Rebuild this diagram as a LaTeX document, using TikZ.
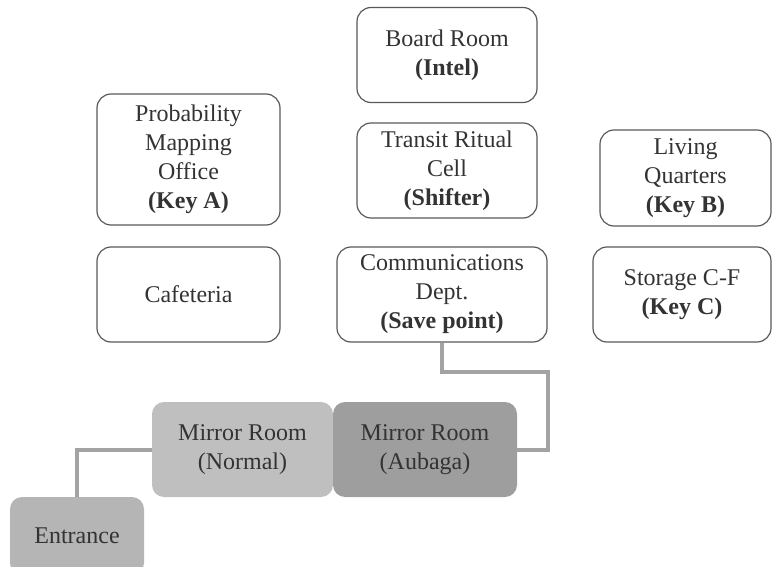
\documentclass[tikz,border=0pt]{standalone}
\usepackage{fontspec}
\setmainfont{Liberation Serif}
\begin{document}
\begin{tikzpicture}[x=0.5pt,y=-0.5pt]

      \useasboundingbox (0,0) rectangle (772,567);

      \begin{scope}[every node/.style={draw=black!65, line width=0.6pt, rounded corners=7pt, align=center, text=black!80, font=\fontsize{12}{14.5}\selectfont, minimum height=47.5pt, inner sep=0pt}]
        \node[minimum width=90pt]   (1) at (447,55)    {Board Room\\\textbf{(Intel)}};
        \node[minimum width=90pt]   (2) at (447,170.5) {Transit Ritual\\Cell\\\textbf{(Shifter)}};
        \node[minimum width=91.5pt, minimum height=65.5pt] (3) at (188.5,159.5) {Probability\\Mapping\\Office\\\textbf{(Key A)}};
        \node[minimum width=91.5pt] (4) at (188.5,294.5) {Cafeteria};
        \node[minimum width=105pt]  (5) at (442,294.5) {Communications\\Dept.\\\textbf{(Save point)}};
        \node[minimum width=85.5pt, minimum height=48pt] (6) at (685.5,178) {Living\\Quarters\\\textbf{(Key B)}};
        \node[minimum width=89pt]   (7) at (682,294.5) {Storage C-F\\\textbf{(Key C)}};
      \end{scope}

      \begin{scope}[every node/.style={rounded corners=6pt, align=center, text=black!80, font=\fontsize{12}{14.5}\selectfont, minimum height=47.5pt, inner sep=0pt}]
        \node[fill=black!25, minimum width=90.5pt] (8)  at (242.5,449.5) {Mirror Room\\(Normal)};
        \node[fill=black!38, minimum width=92pt]   (9)  at (425,449.5)   {Mirror Room\\(Aubaga)};
        \node[fill=black!29, minimum width=67pt, minimum height=39pt] (10) at (77,536) {Entrance};
      \end{scope}

      \coordinate (c1) at (548,372);

      \begin{scope}[line width=2pt, black!36]
        \draw (5.south) |- (c1) |- (9.east);
        \draw (8.west) -| (10.north);
      \end{scope}

    \end{tikzpicture}
\end{document}
